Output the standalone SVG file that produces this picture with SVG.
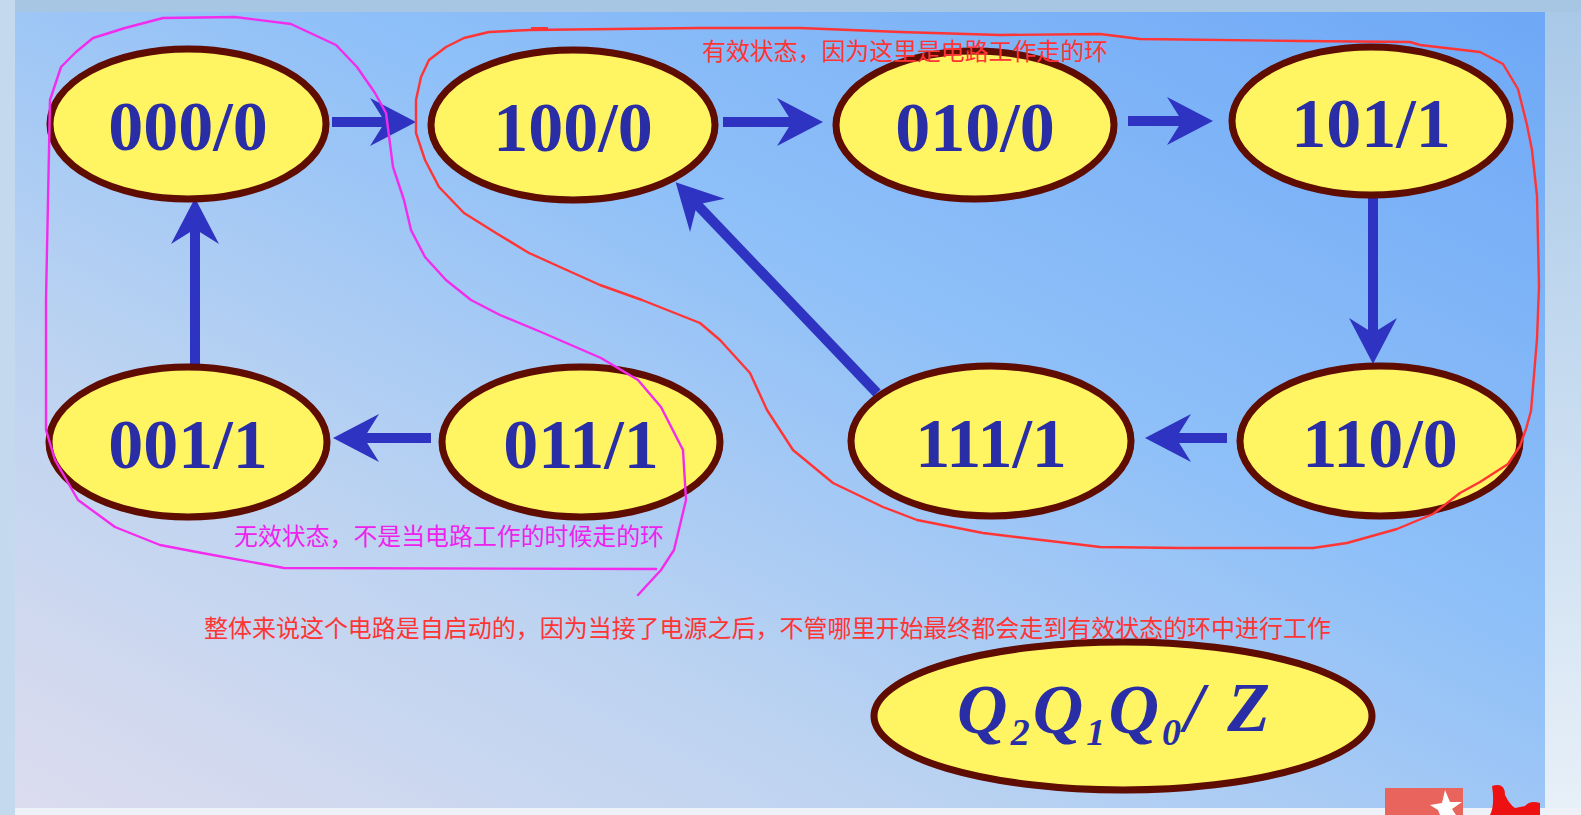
<svg xmlns="http://www.w3.org/2000/svg" width="1581" height="815" viewBox="0 0 1581 815">
<defs>
<style>
.node ellipse{fill:#fff462;stroke:#5e0806;stroke-width:7;filter:url(#soft)}
.node text{font-family:"Liberation Serif","Times New Roman",serif;font-weight:bold;font-size:70px;fill:#2a2ea6;text-anchor:middle}
.conn line{stroke:#2f33c2;stroke-width:10;marker-end:url(#ah)}
.note{font-family:"Noto Sans CJK SC","Noto Sans",sans-serif;font-size:24px}
.hand{fill:none;stroke-width:2.4;stroke-linejoin:round;stroke-linecap:round}
</style>
<filter id="soft" x="-10%" y="-10%" width="120%" height="120%"><feGaussianBlur stdDeviation="0.5"/></filter>
<marker id="ah" markerUnits="userSpaceOnUse" viewBox="-40 -30 60 60" refX="0" refY="0" markerWidth="60" markerHeight="60" orient="auto" overflow="visible">
<path d="M15,0 L-31,-24 L-16,0 L-31,24 Z" fill="#2f33c2"/>
</marker>
<linearGradient id="bg" x1="0" y1="1" x2="1" y2="0">
<stop offset="0" stop-color="#dcdcee"/>
<stop offset="0.3" stop-color="#bcd3f1"/>
<stop offset="0.6" stop-color="#8fc0f8"/>
<stop offset="1" stop-color="#6ea8f6"/>
</linearGradient>
<linearGradient id="rside" x1="0" y1="0" x2="0" y2="1">
<stop offset="0" stop-color="#a8c8e8"/>
<stop offset="1" stop-color="#e8f0f8"/>
</linearGradient>
</defs>
<rect width="1581" height="815" fill="#a9c8e6"/>
<rect x="1545" y="0" width="36" height="815" fill="url(#rside)"/>
<rect x="0" y="0" width="1581" height="12" fill="#a6c6e4"/>
<rect x="0" y="808" width="1581" height="7" fill="#eef2f8"/>
<rect x="0" y="0" width="15" height="815" fill="#c4d8ee"/>
<rect x="15" y="12" width="1530" height="796" fill="url(#bg)"/>

<g id="connectors" class="conn">
<line x1="332" y1="122" x2="401" y2="122"/>
<line x1="723" y1="122" x2="808" y2="122"/>
<line x1="1128" y1="121" x2="1198" y2="121"/>
<line x1="1373" y1="198" x2="1373" y2="349"/>
<line x1="1227" y1="438" x2="1160" y2="438"/>
<line x1="877" y1="393" x2="686" y2="193"/>
<line x1="431" y1="438" x2="348" y2="438"/>
<line x1="195" y1="368" x2="195" y2="213"/>
</g>

<g id="n000" class="node"><ellipse cx="188" cy="124" rx="138" ry="75"/><text x="188" y="150">000/0</text></g>
<g id="n100" class="node"><ellipse cx="573" cy="125" rx="142" ry="75"/><text x="573" y="151">100/0</text></g>
<g id="n010" class="node"><ellipse cx="975" cy="125" rx="139" ry="74"/><text x="975" y="151">010/0</text></g>
<g id="n101" class="node"><ellipse cx="1371" cy="121" rx="139" ry="74"/><text x="1371" y="147">101/1</text></g>
<g id="n110" class="node"><ellipse cx="1380" cy="441" rx="140" ry="75"/><text x="1380" y="467">110/0</text></g>
<g id="n111" class="node"><ellipse cx="991" cy="441" rx="140" ry="75"/><text x="991" y="467">111/1</text></g>
<g id="n011" class="node"><ellipse cx="581" cy="442" rx="139" ry="75"/><text x="581" y="468">011/1</text></g>
<g id="n001" class="node"><ellipse cx="188" cy="442" rx="139" ry="75"/><text x="188" y="468">001/1</text></g>

<g id="legend" class="node"><ellipse cx="1123" cy="716" rx="249" ry="74"/>
<text x="957" y="733" style="text-anchor:start;font-style:italic;font-size:70px" textLength="313" lengthAdjust="spacing">Q<tspan font-size="38" dy="12">2</tspan><tspan dy="-12">Q</tspan><tspan font-size="38" dy="12">1</tspan><tspan dy="-12">Q</tspan><tspan font-size="38" dy="12">0</tspan><tspan dy="-14">/ Z</tspan></text></g>

<g id="annotations">
<polyline class="hand" stroke="#f22cec" points="656,569 284,568 202,553 160,545 115,527 78,500 55,460 46,430 46,300 48,200 50,100 61,67 76,52 93,38 125,28 163,18 235,17 291,24 336,45 357,67 375,93 386,113 393,167 404,200 411,230 425,257 446,280 471,300 500,315 541,332 601,358 638,380 661,407 683,450 686,500 674,550 661,570 638,595"/>
<polyline class="hand" stroke="#ff3434" points="529,30 700,28 800,28 900,32 1000,35 1100,34 1140,39 1300,41 1410,42 1420,45 1480,52 1503,64 1518,89 1527,125 1532,150 1537,196 1539,286 1537,339 1534,375 1531,411 1526,429 1520,446 1508,464 1480,482 1460,493 1433,514 1397,529 1347,543 1313,548 1180,548 1100,547 1067,543 983,533 917,520 883,507 833,483 793,450 767,410 750,373 720,340 700,323 642,300 600,285 560,267 529,253 496,233 464,213 439,187 425,160 416,133 416,100 421,77 429,60 446,47 464,38 489,32 529,30"/>
<line x1="531" y1="29" x2="548" y2="29" stroke="#ff3434" stroke-width="4"/>
<text class="note" x="702" y="60" fill="#ff3434" textLength="406" lengthAdjust="spacingAndGlyphs">有效状态，因为这里是电路工作走的环</text>
<text class="note" x="234" y="545" fill="#ee22ee" textLength="430" lengthAdjust="spacingAndGlyphs">无效状态，不是当电路工作的时候走的环</text>
<text class="note" x="204" y="637" fill="#ff3434" textLength="1127" lengthAdjust="spacingAndGlyphs">整体来说这个电路是自启动的，因为当接了电源之后，不管哪里开始最终都会走到有效状态的环中进行工作</text>
</g>

<g id="logo">
<rect x="1385" y="788" width="78" height="27" fill="#e8645c"/>
<path d="M1445,790 L1450,802 L1462,802 L1452,809 L1456,815 L1440,815 L1438,810 L1430,805 L1442,803 Z" fill="#ffffff"/>
<path d="M1492,786 Q1505,782 1505,795 Q1510,805 1515,808 L1525,806 Q1530,800 1540,803 L1540,815 L1490,815 Q1495,805 1492,786 Z" fill="#ee1111"/>
</g>
</svg>
